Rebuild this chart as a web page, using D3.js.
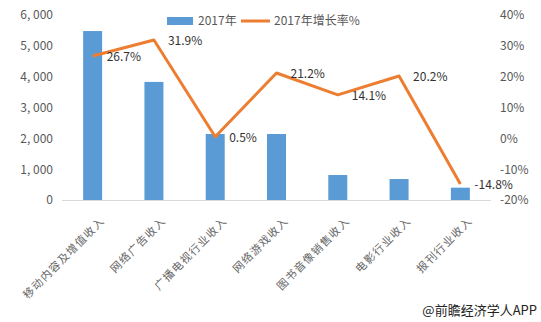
<!DOCTYPE html>
<html><head><meta charset="utf-8">
<script src="https://cdn.jsdelivr.net/npm/d3@7/dist/d3.min.js"></script>
<style>body{margin:0;background:#fff}svg{display:block}</style>
</head><body>
<svg id="c" width="541" height="322"></svg>
<script>
const categories = ["移动内容及增值收入","网络广告收入","广播电视行业收入","网络游戏收入","图书音像销售收入","电影行业收入","报刊行业收入"];
const revenue2017 = [5480, 3830, 2140, 2140, 810, 680, 400];
const growth2017 = [26.7, 31.9, 0.5, 21.2, 14.1, 20.2, -14.8];
const leftTicks = [0, 1000, 2000, 3000, 4000, 5000, 6000];
const rightTicks = [-20, -10, 0, 10, 20, 30, 40];
const seriesNames = ["2017年", "2017年增长率%"];

const svg = d3.select("#c");
const font = "'Noto Sans CJK SC', 'DejaVu Sans', sans-serif";
const blue = "#5B9BD5", orange = "#ED7D31", grey = "#595959";

const x = d3.scaleBand().domain(categories).range([62, 491]).paddingInner(0.69).paddingOuter(0.345);
const yL = d3.scaleLinear().domain([0, 6000]).range([200, 15]);
const yR = d3.scaleLinear().domain([-20, 40]).range([200, 15]);

// left axis
const axL = svg.append("g").attr("transform", "translate(56,0)")
  .call(d3.axisLeft(yL).tickValues(leftTicks).tickSize(0).tickPadding(3)
    .tickFormat(d => d3.format(",")(d).replace(",", ", ")));
axL.select(".domain").remove();
axL.selectAll("text").attr("font-family", font).attr("font-size", 12).attr("fill", grey);

// right axis
const axR = svg.append("g").attr("transform", "translate(497,0)")
  .call(d3.axisRight(yR).tickValues(rightTicks).tickSize(0).tickPadding(3).tickFormat(d => d + "%"));
axR.select(".domain").remove();
axR.selectAll("text").attr("font-family", font).attr("font-size", 12).attr("fill", grey);

// bars
svg.append("g").selectAll("rect").data(categories).join("rect")
  .attr("x", d => x(d)).attr("width", x.bandwidth())
  .attr("y", (d, i) => yL(revenue2017[i]))
  .attr("height", (d, i) => yL(0) - yL(revenue2017[i]))
  .attr("fill", blue);

// baseline
svg.append("line").attr("x1", 62).attr("x2", 491).attr("y1", yL(0) + 0.5).attr("y2", yL(0) + 0.5)
  .attr("stroke", "#d9d9d9").attr("stroke-width", 1);

// x labels
svg.append("g").selectAll("text").data(categories).join("text")
  .attr("transform", d => `translate(${x(d) + x.bandwidth() / 2 + 10},${yL(0) + 19}) rotate(-45)`)
  .attr("text-anchor", "end").attr("dy", "0.35em")
  .attr("font-family", font).attr("font-size", 11).attr("fill", "#666")
  .attr("letter-spacing", 1.2)
  .text(d => d);

// line
const cx = d => x(d) + x.bandwidth() / 2;
const line = d3.line().x((d, i) => cx(categories[i])).y(d => yR(d));
svg.append("path").datum(growth2017).attr("d", line)
  .attr("fill", "none").attr("stroke", orange).attr("stroke-width", 3).attr("stroke-linejoin", "round");

// line labels
svg.append("g").selectAll("text").data(growth2017).join("text")
  .attr("x", (d, i) => cx(categories[i]) + 14)
  .attr("y", (d, i) => yR(d) + 1)
  .attr("dy", "0.35em")
  .attr("font-family", font).attr("font-size", 12).attr("fill", "#333")
  .text(d => d.toFixed(1) + "%");

// legend
const lg = svg.append("g");
lg.append("rect").attr("x", 167).attr("y", 17).attr("width", 26).attr("height", 8).attr("fill", blue);
lg.append("text").attr("x", 198).attr("y", 21).attr("dy", "0.35em")
  .attr("font-family", font).attr("font-size", 12).attr("fill", grey).text(seriesNames[0]);
lg.append("line").attr("x1", 241).attr("x2", 270).attr("y1", 21).attr("y2", 21)
  .attr("stroke", orange).attr("stroke-width", 3);
lg.append("text").attr("x", 274).attr("y", 21).attr("dy", "0.35em")
  .attr("font-family", font).attr("font-size", 12).attr("fill", grey).text(seriesNames[1]);

// source
svg.append("text").attr("x", 537).attr("y", 310).attr("dy", "0.35em").attr("text-anchor", "end")
  .attr("font-family", font).attr("font-size", 13).attr("fill", "#222").text("@前瞻经济学人APP");
</script>
</body></html>
